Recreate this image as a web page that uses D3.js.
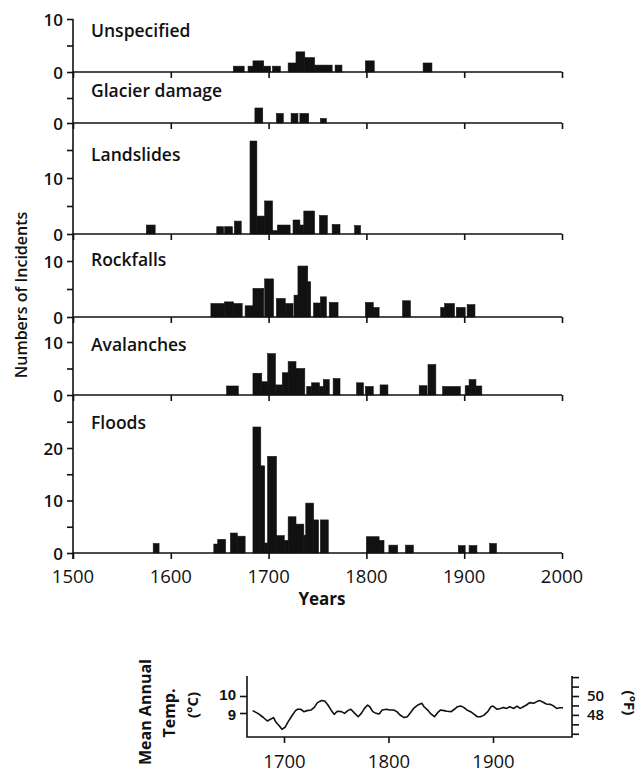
<!DOCTYPE html>
<html>
<head>
<meta charset="utf-8">
<script src="https://cdn.jsdelivr.net/npm/d3@7"></script>
<style>
  body { margin: 0; background: #fff; }
  svg { font-family: "Open Sans", sans-serif; }
</style>
</head>
<body>
<svg id="chart" width="641" height="776"></svg>
<script>

// incident bars: [from year, to year, number of incidents]
var categories = ["Unspecified", "Glacier damage", "Landslides", "Rockfalls", "Avalanches", "Floods"];

var unspecified = [[1664,1675,1.1],[1679,1684,1.1],[1684,1695,2.1],[1695,1702,1.1],[1704,1712,1.1],
  [1720,1728,1.7],[1728,1737,3.8],[1737,1747,2.7],[1747,1765,1.3],[1768,1775,1.3],[1799,1808,2.1],[1858,1867,1.7]];

var glacier = [[1686,1694,3],[1708,1715,1.9],[1723,1730,1.9],[1732,1741,1.9],[1753,1759,0.9]];

var landslides = [[1575,1584,1.6],[1647,1654,1.3],[1655,1663,1.3],[1665,1672,2.3],[1681,1688,16.6],
  [1688,1696,3.2],[1696,1704,5.9],[1704,1709,0.6],[1709,1722,1.6],[1725,1732,2.5],[1732,1736,1.6],
  [1736,1747,4.1],[1752,1760,3.3],[1765,1773,1.7],[1788,1794,1.5]];

var rockfalls = [[1641,1655,2.4],[1655,1664,2.7],[1664,1673,2.4],[1676,1684,2.0],[1684,1695,5.1],
  [1696,1705,6.8],[1708,1717,3.3],[1717,1725,2.4],[1726,1730,3.9],[1730,1740,9.1],[1740,1743,6.3],
  [1746,1753,2.5],[1753,1759,3.6],[1762,1771,2.6],[1799,1807,2.6],[1807,1813,1.7],[1837,1845,2.9],
  [1876,1880,1.7],[1880,1890,2.4],[1892,1901,1.7],[1903,1911,2.2]];

var avalanches = [[1657,1669,1.7],[1684,1693,4.1],[1693,1699,2.5],[1699,1707,7.8],[1707,1714,1.9],
  [1714,1720,4.2],[1720,1728,6.3],[1728,1737,5.0],[1739,1744,1.6],[1744,1752,2.3],[1752,1756,1.6],
  [1756,1762,2.9],[1766,1773,3.1],[1790,1797,2.3],[1799,1807,1.6],[1814,1822,1.9],[1854,1862,1.75],
  [1863,1871,5.75],[1878,1896,1.6],[1901,1905,1.75],[1905,1912,2.9],[1912,1918,1.7]];

var floods = [[1582,1588,1.8],[1644,1648,1.7],[1648,1656,2.6],[1661,1668,3.8],[1668,1676,3.2],
  [1684,1692,24],[1692,1696,16.6],[1696,1699,1.9],[1699,1708,18.4],[1708,1716,3.3],[1716,1720,2.4],
  [1720,1728,6.9],[1728,1736,5.5],[1736,1738,3.4],[1738,1746,9.5],[1746,1751,6.3],[1753,1761,6.3],
  [1800,1813,3.1],[1813,1818,2.4],[1823,1832,1.5],[1840,1848,1.5],[1894,1901,1.4],[1905,1913,1.4],
  [1926,1933,1.8]];

var series = [unspecified, glacier, landslides, rockfalls, avalanches, floods];
var yearTicks = [1500, 1600, 1700, 1800, 1900, 2000];

// mean annual temperature (deg C)
var tempYears = [1670,1675,1680,1684,1687,1690,1692,1696,1698,1701,1704,1707,1711,1713,1716,1719,1722,1726,
  1729,1732,1736,1739,1742,1745,1748,1751,1755,1758,1761,1764,1767,1771,1774,1777,1780,1782,1785,1788,1791,
  1794,1798,1801,1805,1808,1811,1815,1818,1821,1824,1828,1832,1834,1838,1840,1844,1847,1850,1853,1856,1860,
  1863,1866,1869,1872,1875,1879,1882,1885,1888,1891,1895,1898,1900,1904,1907,1910,1913,1916,1920,1923,1926,
  1929,1932,1935,1939,1942,1945,1948,1951,1955,1958,1961,1964,1967];
var temps = [9.14,8.98,8.75,8.53,8.63,8.73,8.49,8.20,8.04,8.16,8.49,8.78,9.14,9.22,9.22,9.08,9.14,9.18,
  9.33,9.61,9.73,9.71,9.47,9.18,8.92,9.10,9.08,8.98,9.14,9.22,9.02,8.78,8.98,9.27,9.47,9.37,9.08,8.98,8.94,
  9.18,9.22,9.18,9.18,9.08,8.88,8.73,8.78,9.02,9.27,9.47,9.57,9.37,9.14,8.98,8.78,9.02,9.18,9.14,9.10,9.08,
  9.22,9.37,9.41,9.33,9.18,9.06,8.92,8.78,8.78,8.86,9.08,9.37,9.41,9.22,9.27,9.33,9.27,9.37,9.27,9.41,9.27,
  9.37,9.47,9.61,9.57,9.67,9.73,9.63,9.53,9.51,9.41,9.27,9.31,9.31];
var tempYearTicks = [1700, 1800, 1900];
var celsiusTicks = [9, 10];
var fahrenheitTicks = [46, 47, 48, 49, 50, 51, 52];
var fahrenheitLabels = [48, 50];

var svg = d3.select("#chart");

var x = d3.scaleLinear().domain([1500, 2000]).range([73, 562]);

// each panel: value domain, pixel range, tick values, labelled ticks, title baseline
var layout = [
  {dom: [0, 10], rng: [72, 19],   ticks: [0, 5, 10],            labels: [0, 10],     ty: 37},
  {dom: [0, 5],  rng: [123, 98],  ticks: [0, 5],                labels: [0],         ty: 97},
  {dom: [0, 10], rng: [234, 178], ticks: [0, 5, 10, 15],        labels: [0, 10],     ty: 161},
  {dom: [0, 10], rng: [317, 261], ticks: [0, 5, 10],            labels: [0, 10],     ty: 266},
  {dom: [0, 10], rng: [395, 342], ticks: [0, 5, 10],            labels: [0, 10],     ty: 351},
  {dom: [0, 20], rng: [553, 448], ticks: [0, 5, 10, 15, 20, 25], labels: [0, 10, 20], ty: 429}
];

var ink = "#111";

// vertical axis shared by all panels
svg.append("line").attr("x1", 73).attr("x2", 73).attr("y1", 19).attr("y2", 559)
  .attr("stroke", ink).attr("stroke-width", 1.6);

categories.forEach(function(name, i) {
  var L = layout[i];
  var y = d3.scaleLinear().domain(L.dom).range(L.rng);
  var g = svg.append("g");

  g.selectAll("rect").data(series[i]).enter().append("rect")
    .attr("x", function(d) { return x(d[0]); })
    .attr("width", function(d) { return x(d[1]) - x(d[0]); })
    .attr("y", function(d) { return y(d[2]); })
    .attr("height", function(d) { return y(0) - y(d[2]); })
    .attr("fill", ink).attr("stroke", ink).attr("stroke-width", 0.6);

  // baseline with century ticks hanging down
  var xa = d3.axisBottom(x).tickValues(yearTicks).tickSize(6).tickFormat("");
  g.append("g").attr("transform", "translate(0," + y(0) + ")").call(xa)
    .call(function(s) {
      s.select(".domain").remove();
      s.selectAll("line").attr("stroke", ink).attr("stroke-width", 1.6);
    });
  g.append("line").attr("x1", 73).attr("x2", 562).attr("y1", y(0)).attr("y2", y(0))
    .attr("stroke", ink).attr("stroke-width", 1.6);

  var ya = d3.axisLeft(y).tickValues(L.ticks).tickSize(6)
    .tickFormat(function(v) { return L.labels.indexOf(v) >= 0 ? v : ""; });
  g.append("g").attr("transform", "translate(73,0)").call(ya)
    .call(function(s) {
      s.select(".domain").remove();
      s.selectAll("line").attr("stroke", ink).attr("stroke-width", 1.6);
      s.selectAll("text").attr("x", -10).attr("dy", "0.36em")
        .style("font-family", "Open Sans").style("font-size", "17px").style("font-weight", 600).attr("fill", ink);
    });

  g.append("text").attr("x", 91).attr("y", L.ty).text(name)
    .style("font-size", "17.5px").style("font-weight", 600).attr("fill", ink);
});

// year labels
svg.selectAll(".yl").data(yearTicks).enter().append("text")
  .attr("x", function(d) { return x(d); }).attr("y", 583)
  .attr("text-anchor", "middle").text(function(d) { return d; })
  .style("font-size", "18.5px").style("font-weight", 500).attr("fill", ink);

svg.append("text").attr("x", 322).attr("y", 605).attr("text-anchor", "middle").text("Years")
  .style("font-size", "17px").style("font-weight", 700).attr("fill", ink);

svg.append("text").attr("transform", "translate(27,295) rotate(-90)").attr("text-anchor", "middle")
  .text("Numbers of Incidents").style("font-size", "16px").style("font-weight", 600).attr("fill", ink);

// temperature panel
var tx = d3.scaleLinear().domain([1700, 1900]).range([284, 493]);
var ty = d3.scaleLinear().domain([9, 10]).range([713, 696]);
var tf = d3.scaleLinear().domain([50, 48]).range([ty(10), ty((48 - 32) * 5 / 9)]);
var tLeft = 247, tRight = 572, tTop = 676, tBottom = 737;

svg.append("path")
  .attr("d", "M" + tLeft + "," + tTop + "V" + tBottom + "H" + tRight + "V" + tTop)
  .attr("fill", "none").attr("stroke", ink).attr("stroke-width", 1.6);

svg.append("g").attr("transform", "translate(0," + tBottom + ")")
  .call(d3.axisBottom(tx).tickValues(tempYearTicks).tickSize(6).tickPadding(12).tickFormat(d3.format("d")))
  .call(function(s) {
    s.select(".domain").remove();
    s.selectAll("line").attr("stroke", ink).attr("stroke-width", 1.6);
    s.selectAll("text").style("font-family", "Open Sans").style("font-size", "18.5px")
      .style("font-weight", 500).attr("fill", ink);
  });

svg.append("g").attr("transform", "translate(" + tLeft + ",0)")
  .call(d3.axisLeft(ty).tickValues(celsiusTicks).tickSize(7).tickPadding(4).tickFormat(d3.format("d")))
  .call(function(s) {
    s.select(".domain").remove();
    s.selectAll("line").attr("stroke", ink).attr("stroke-width", 1.6);
    s.selectAll("text").style("font-family", "Liberation Sans").style("font-size", "15px")
      .style("font-weight", 700).attr("fill", ink)
      .attr("dy", function(v) { return v === 10 ? "0.22em" : "0.42em"; });
  });

svg.append("g").attr("transform", "translate(" + tRight + ",0)")
  .call(d3.axisRight(tf).tickValues(fahrenheitTicks).tickSize(7).tickPadding(8)
    .tickFormat(function(v) { return fahrenheitLabels.indexOf(v) >= 0 ? v : ""; }))
  .call(function(s) {
    s.select(".domain").remove();
    s.selectAll("line").attr("stroke", ink).attr("stroke-width", 1.6);
    s.selectAll("text").style("font-family", "Open Sans").style("font-size", "15px")
      .style("font-weight", 600).attr("fill", ink);
  });

var line = d3.line()
  .x(function(d, i) { return tx(tempYears[i]); })
  .y(function(d) { return ty(d); })
  .curve(d3.curveLinear);
svg.append("path").datum(temps).attr("d", line)
  .attr("fill", "none").attr("stroke", ink).attr("stroke-width", 1.6).attr("stroke-linejoin", "round");

svg.append("text").attr("transform", "translate(151,712) rotate(-90)").attr("text-anchor", "middle")
  .text("Mean Annual").style("font-size", "16px").style("font-weight", 700).attr("fill", ink);
svg.append("text").attr("transform", "translate(175,713) rotate(-90)").attr("text-anchor", "middle")
  .text("Temp.").style("font-size", "16px").style("font-weight", 700).attr("fill", ink);
svg.append("text").attr("transform", "translate(198,705) rotate(-90)").attr("text-anchor", "middle")
  .text("(°C)").style("font-size", "15px").style("font-weight", 700).attr("fill", ink);
svg.append("text").attr("transform", "translate(624,703) rotate(90)").attr("text-anchor", "middle")
  .text("(°F)").style("font-size", "15px").style("font-weight", 700).attr("fill", ink);

</script>
</body>
</html>
